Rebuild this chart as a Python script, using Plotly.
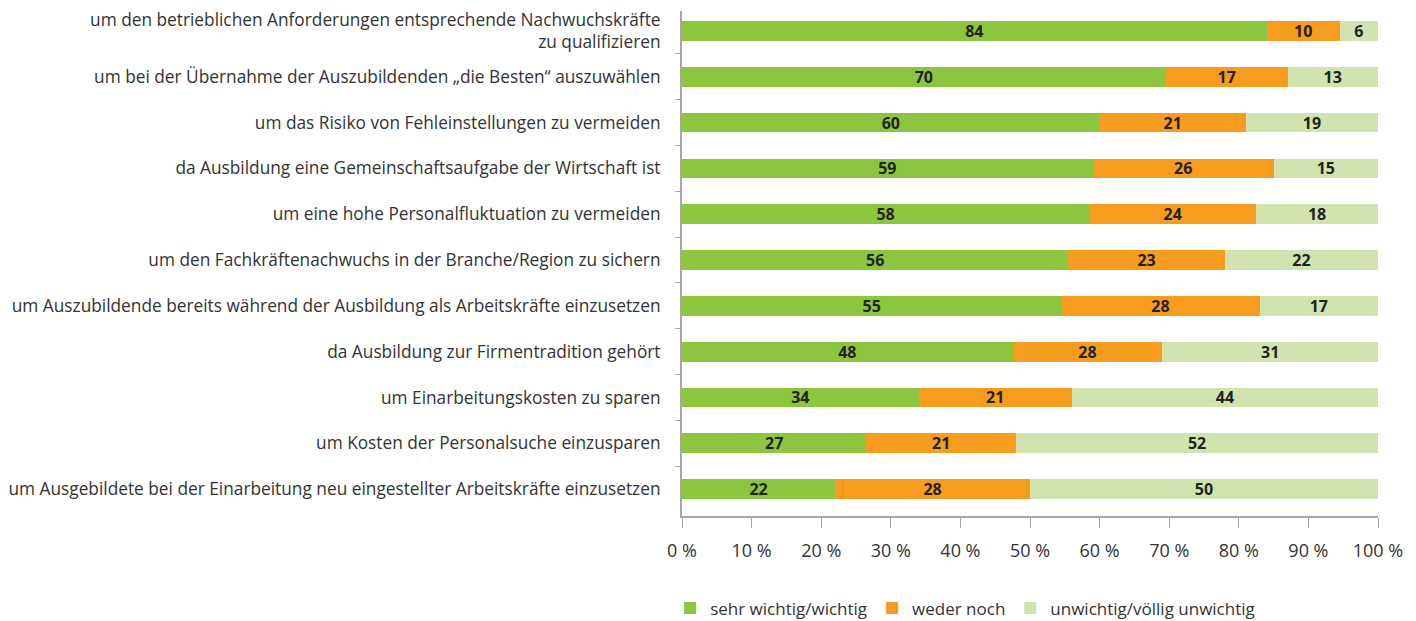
import plotly.graph_objects as go

categories = [
    "um den betrieblichen Anforderungen entsprechende Nachwuchskräfte<br>zu qualifizieren",
    "um bei der Übernahme der Auszubildenden „die Besten“ auszuwählen",
    "um das Risiko von Fehleinstellungen zu vermeiden",
    "da Ausbildung eine Gemeinschaftsaufgabe der Wirtschaft ist",
    "um eine hohe Personalfluktuation zu vermeiden",
    "um den Fachkräftenachwuchs in der Branche/Region zu sichern",
    "um Auszubildende bereits während der Ausbildung als Arbeitskräfte einzusetzen",
    "da Ausbildung zur Firmentradition gehört",
    "um Einarbeitungskosten zu sparen",
    "um Kosten der Personalsuche einzusparen",
    "um Ausgebildete bei der Einarbeitung neu eingestellter Arbeitskräfte einzusetzen",
]

# bar lengths as drawn in the reference (percent)
wichtig = [84, 69.5, 60, 59, 58.5, 55.5, 54.5, 47.5, 34, 26.5, 22]
weder = [10.5, 17.5, 21, 26, 24, 22.5, 28.5, 21.5, 22, 21.5, 28]
unwichtig = [5.5, 13, 19, 15, 17.5, 22, 17, 31, 44, 52, 50]

# printed labels as shown in the reference
wichtig_lbl = ["84", "70", "60", "59", "58", "56", "55", "48", "34", "27", "22"]
weder_lbl = ["10", "17", "21", "26", "24", "23", "28", "28", "21", "21", "28"]
unwichtig_lbl = ["6", "13", "19", "15", "18", "22", "17", "31", "44", "52", "50"]

series_names = ["sehr wichtig/wichtig", "weder noch", "unwichtig/völlig unwichtig"]
colors = ["#8cc63f", "#f79c1e", "#d1e4b0"]

tick_vals = [0, 10, 20, 30, 40, 50, 60, 70, 80, 90, 100]
tick_text = ["0 %", "10 %", "20 %", "30 %", "40 %", "50 %",
             "60 %", "70 %", "80 %", "90 %", "100 %"]

fig = go.Figure()
for name, vals, lbls, col in zip(series_names, [wichtig, weder, unwichtig],
                                 [wichtig_lbl, weder_lbl, unwichtig_lbl], colors):
    fig.add_trace(go.Bar(
        y=categories, x=vals, orientation="h", name=name,
        marker=dict(color=col, line=dict(width=0)),
        text=lbls, textposition="inside", insidetextanchor="middle", textangle=0,
        textfont=dict(family="Open Sans", size=16, color="#222222", weight="bold"),
        constraintext="none",
    ))

fig.update_layout(
    barmode="stack",
    bargap=0.57,
    width=1416, height=621,
    margin=dict(l=673, r=46, t=0, b=113),
    plot_bgcolor="white", paper_bgcolor="white",
    font=dict(family="Open Sans", size=17, color="#333333"),
    legend=dict(orientation="h", x=-0.017, xanchor="left", y=-0.183, yanchor="middle",
                font=dict(family="Open Sans", size=17, color="#333333"),
                traceorder="normal", itemwidth=30),
    showlegend=True,
)
fig.update_xaxes(
    range=[0, 100], tickvals=tick_vals, ticktext=tick_text,
    showgrid=False, zeroline=False,
    showline=True, linecolor="#a6a6a6", linewidth=2,
    ticks="outside", ticklen=10, tickcolor="#a6a6a6", tickwidth=1,
    tickfont=dict(family="Open Sans", size=18, color="#333333"),
    ticklabelstandoff=7,
)
fig.update_yaxes(
    autorange=False, range=[10.586, -0.434],
    categoryorder="array", categoryarray=categories,
    showgrid=False, zeroline=False,
    showline=True, linecolor="#a6a6a6", linewidth=2,
    ticks="outside", ticklen=5, tickcolor="#a6a6a6", tickwidth=1,
    tickson="boundaries",
    tickfont=dict(family="Open Sans", size=17.3, color="#333333"),
    ticklabelstandoff=16,
)

fig.write_html("out.html")
